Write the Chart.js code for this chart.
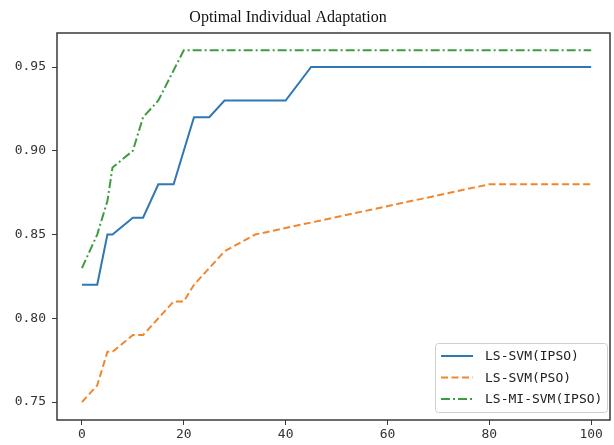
<!DOCTYPE html>
<html>
<head>
<meta charset="utf-8">
<script src="https://cdn.jsdelivr.net/npm/chart.js@4/dist/chart.umd.min.js"></script>
<style>
  html, body { margin: 0; padding: 0; background: #fff; }
  #wrap { width: 614px; height: 445px; }
</style>
</head>
<body>
<div id="wrap"><canvas id="c" width="614" height="445"></canvas></div>
<script>
// values
const chartTitle = 'Optimal Individual Adaptation';
const seriesNames = ['LS-SVM(IPSO)', 'LS-SVM(PSO)', 'LS-MI-SVM(IPSO)'];

const ipsoX = [0, 3, 5, 6, 10, 12, 15, 18, 22, 25, 28, 40, 45, 100];
const ipsoY = [0.82, 0.82, 0.85, 0.85, 0.86, 0.86, 0.88, 0.88, 0.92, 0.92, 0.93, 0.93, 0.95, 0.95];

const psoX = [0, 3, 5, 6, 10, 12, 18, 20, 22, 28, 34, 80, 100];
const psoY = [0.75, 0.76, 0.78, 0.78, 0.79, 0.79, 0.81, 0.81, 0.82, 0.84, 0.85, 0.88, 0.88];

const miX = [0, 3, 5, 6, 10, 12, 15, 20, 100];
const miY = [0.83, 0.85, 0.87, 0.89, 0.90, 0.92, 0.93, 0.96, 0.96];

const xTicks = [0, 20, 40, 60, 80, 100];
const yTicks = [0.75, 0.80, 0.85, 0.90, 0.95];

const monoFont = '"DejaVu Sans Mono", monospace';
const pts = (xs, ys) => xs.map((x, i) => ({ x: x, y: ys[i] }));

// title, frame and legend drawn on top of the chart area
const decorations = {
  id: 'decorations',
  afterDraw(chart) {
    const { ctx, chartArea: a } = chart;
    ctx.save();
    ctx.fillStyle = '#111';
    ctx.font = '16px "Liberation Serif", serif';
    ctx.textAlign = 'center';
    ctx.textBaseline = 'alphabetic';
    ctx.fillText(chartTitle, 288, 22);

    ctx.strokeStyle = '#3a3a3a';
    ctx.lineWidth = 1.5;
    ctx.strokeRect(a.left, a.top, a.right - a.left, a.bottom - a.top);

    // legend, lower right
    const bx = 435, by = 343, bw = 172, bh = 69;
    ctx.fillStyle = 'rgba(255,255,255,0.85)';
    ctx.strokeStyle = '#d0d0d0';
    ctx.lineWidth = 1;
    ctx.beginPath();
    ctx.roundRect(bx + 0.5, by + 0.5, bw, bh, 3);
    ctx.fill();
    ctx.stroke();
    ctx.font = '13px ' + monoFont;
    ctx.textAlign = 'left';
    ctx.textBaseline = 'middle';
    chart.data.datasets.forEach((ds, i) => {
      const yy = by + 13 + i * 21.5;
      ctx.strokeStyle = ds.borderColor;
      ctx.lineWidth = ds.borderWidth;
      ctx.setLineDash(ds.borderDash || []);
      ctx.beginPath();
      ctx.moveTo(bx + 6, yy);
      ctx.lineTo(bx + 38, yy);
      ctx.stroke();
      ctx.setLineDash([]);
      ctx.fillStyle = '#222';
      ctx.fillText(ds.label, bx + 50, yy + 1);
    });
    ctx.restore();
  }
};

new Chart(document.getElementById('c'), {
  type: 'line',
  data: {
    datasets: [
      { label: seriesNames[0], data: pts(ipsoX, ipsoY), borderColor: '#2e78b5', borderWidth: 2 },
      { label: seriesNames[1], data: pts(psoX, psoY), borderColor: '#f0872e', borderWidth: 2, borderDash: [7, 3.5] },
      { label: seriesNames[2], data: pts(miX, miY), borderColor: '#3f9b40', borderWidth: 2, borderDash: [9, 3, 2, 3] }
    ]
  },
  plugins: [decorations],
  options: {
    responsive: false,
    animation: false,
    layout: { padding: { top: 33, right: 4, left: 0, bottom: 0 } },
    elements: { point: { radius: 0 }, line: { tension: 0, fill: false } },
    plugins: { legend: { display: false }, title: { display: false }, tooltip: { enabled: false } },
    scales: {
      x: {
        type: 'linear',
        min: -4.9, max: 103.7,
        afterFit: (s) => { s.height = 25; },
        afterBuildTicks: (s) => { s.ticks = xTicks.map(v => ({ value: v })); },
        grid: { drawOnChartArea: false, color: '#3a3a3a', tickLength: 5, tickWidth: 1 },
        border: { display: false },
        ticks: { color: '#333', padding: 2, font: { family: monoFont, size: 13 }, maxRotation: 0 }
      },
      y: {
        min: 0.7393, max: 0.9703,
        afterFit: (s) => { s.width = 57; },
        afterBuildTicks: (s) => { s.ticks = yTicks.map(v => ({ value: v })); },
        grid: { drawOnChartArea: false, color: '#3a3a3a', tickLength: 5, tickWidth: 1 },
        border: { display: false },
        ticks: { color: '#333', padding: 6, font: { family: monoFont, size: 13 }, callback: (v) => v.toFixed(2) }
      }
    }
  }
});
</script>
</body>
</html>
